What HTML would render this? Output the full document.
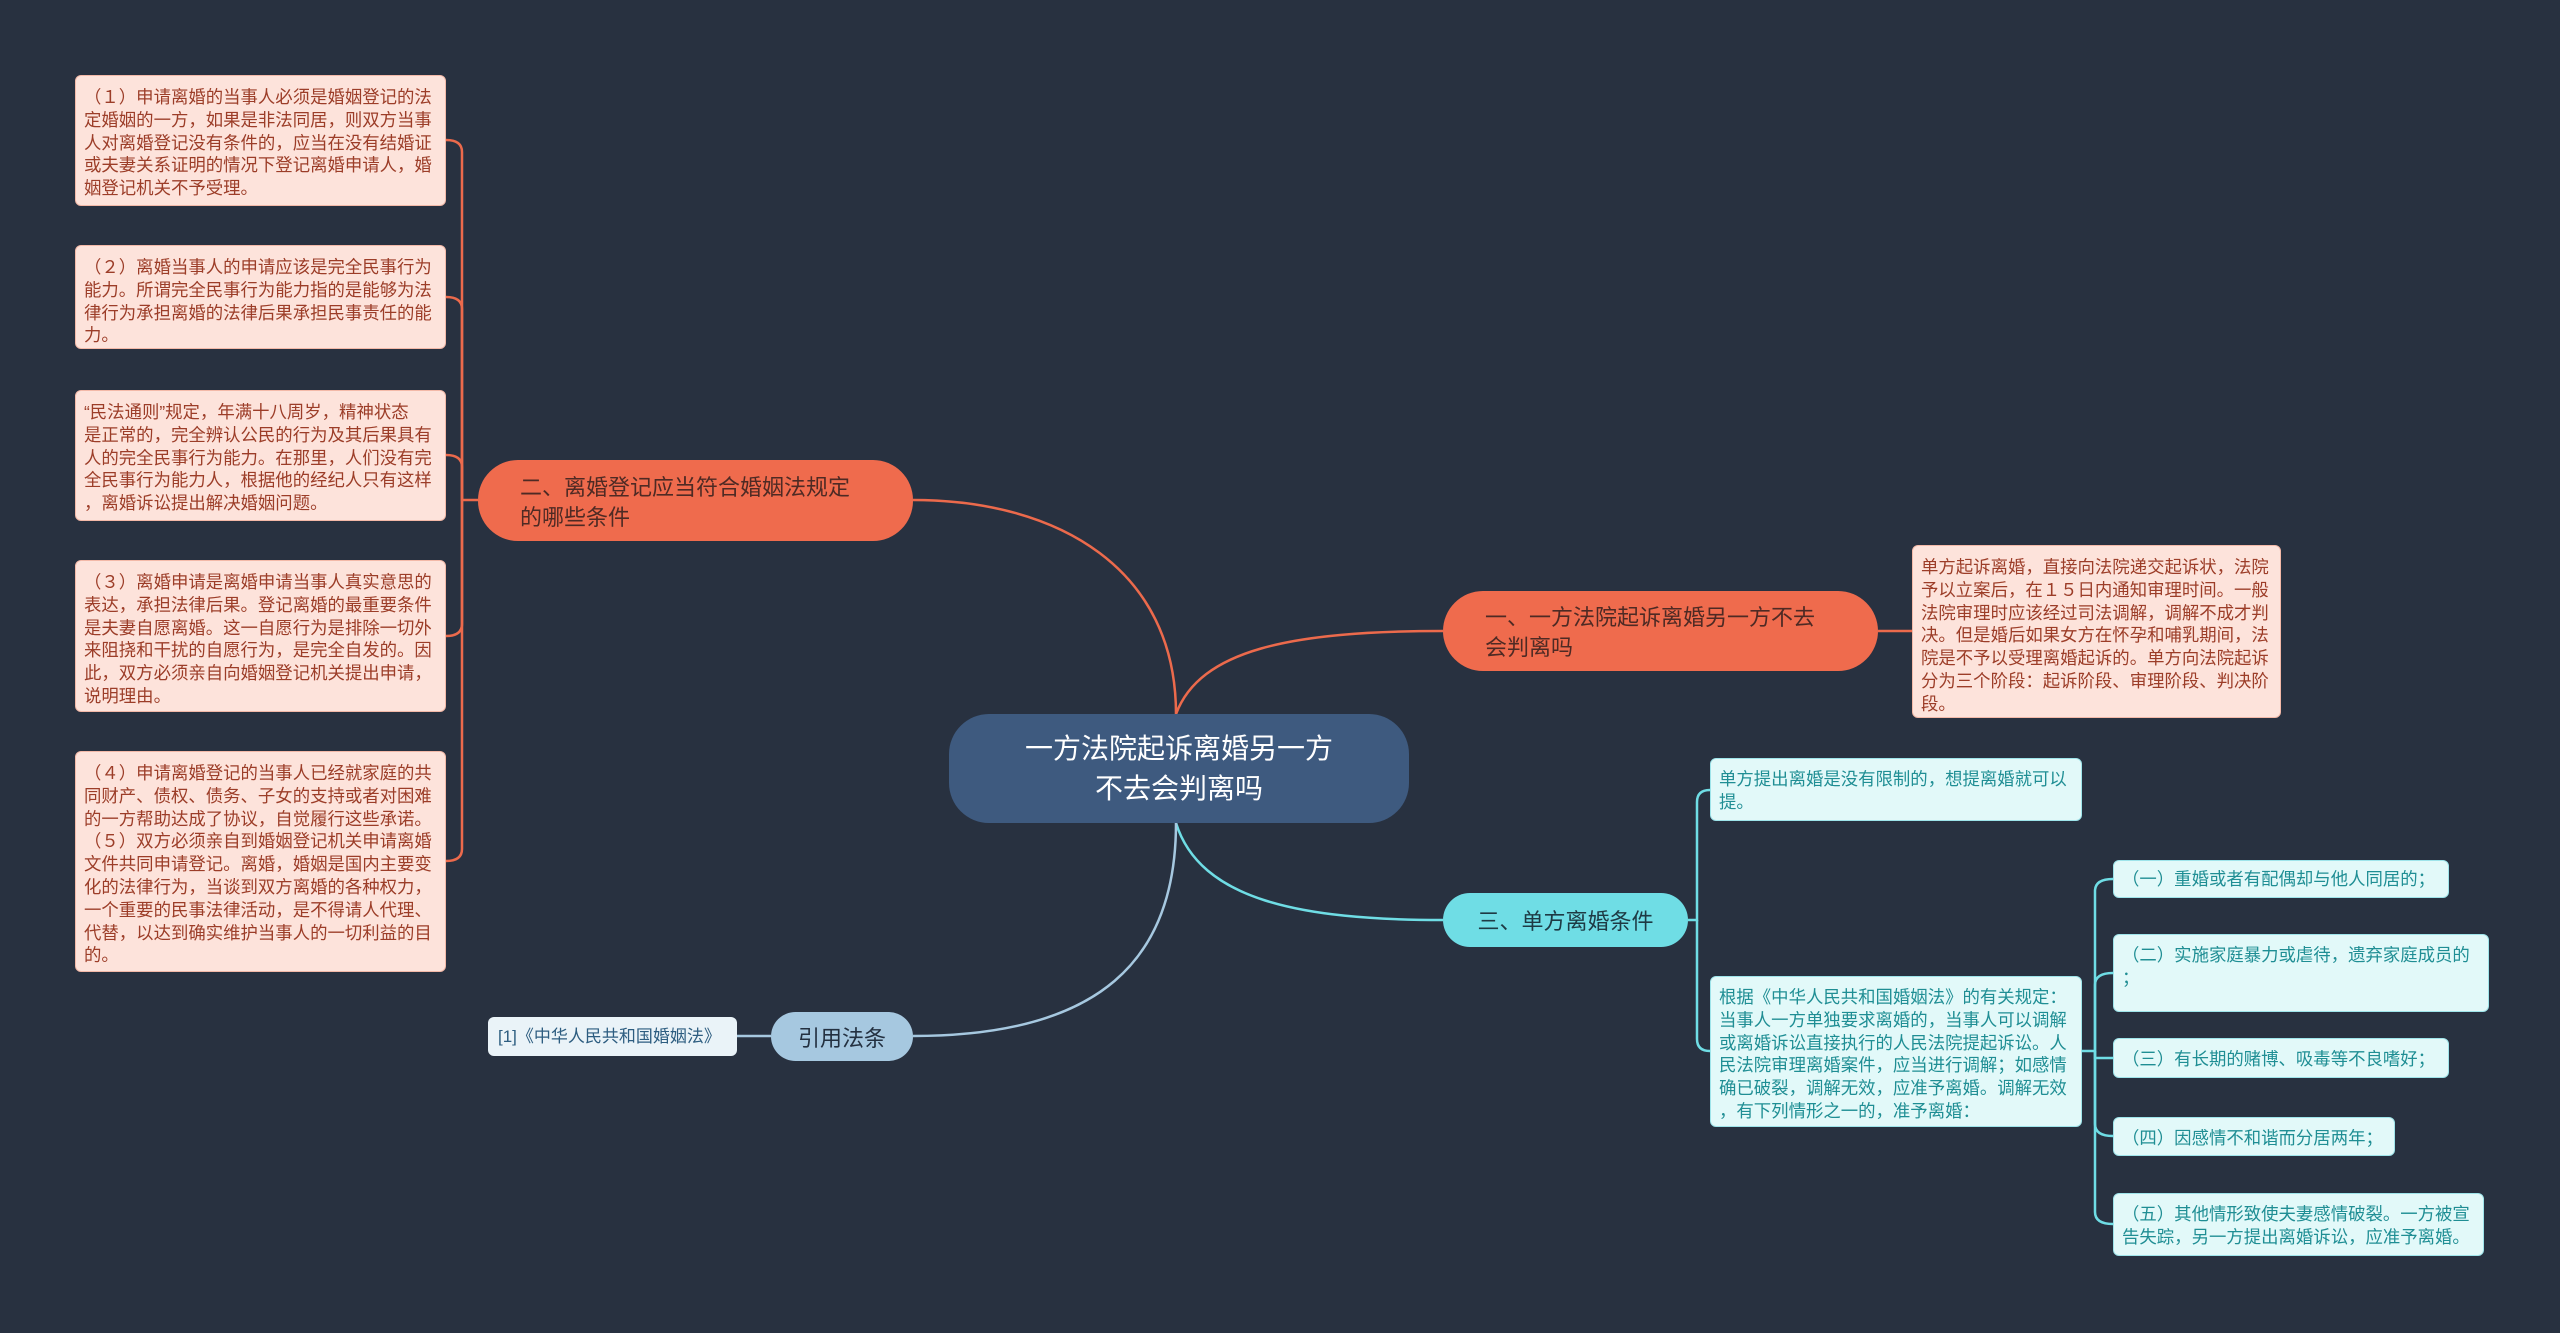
<!DOCTYPE html>
<html><head><meta charset="utf-8"><style>
body{margin:0;width:2560px;height:1333px;background:#283140;overflow:hidden;position:relative;font-family:"Liberation Sans","Noto Sans CJK SC",sans-serif}
.b{position:absolute;box-sizing:border-box;white-space:nowrap}
.l{background:#fde3db;color:#9c3d28;font-size:17.4px;line-height:22.8px;padding:10px 8px 7px 8px;border-radius:6px;border:1px solid #f3b9a8}
.c{background:#e2f9f9;color:#1f8e94;font-size:17.4px;line-height:22.8px;padding:9px 8px 7px 8px;border-radius:6px;border:1px solid #9ee4ea}
.n{display:flex;align-items:center;border-radius:40px}
</style></head><body>
<svg class="b" style="left:0;top:0" width="2560" height="1333">
<g fill="none" stroke-width="2.5">
<path d="M1176,714 C1176,570 1060,500 913,500" stroke="#ec6a4c"/>
<path d="M1176,714 C1200,650 1290,631 1443,631" stroke="#ec6a4c"/>
<path d="M1176,823 C1200,900 1300,920 1443,920" stroke="#6fdde5"/>
<path d="M1176,823 C1176,960 1100,1036 913,1036" stroke="#a6c8e0"/>
<g stroke="#ec6a4c">
<path d="M478,500 H462 V152 Q462,140 446,140"/>
<path d="M462,500 V309 Q462,297 446,297"/>
<path d="M462,500 V467 Q462,455 446,455"/>
<path d="M462,500 V624 Q462,636 446,636"/>
<path d="M462,500 V849 Q462,861 446,861"/>
<path d="M1878,631 H1912"/>
</g>
<g stroke="#6fdde5">
<path d="M1688,920 H1697 V802 Q1697,790 1710,790"/>
<path d="M1697,920 V1039 Q1697,1051 1710,1051"/>
<path d="M2082,1051 H2095 V891 Q2095,879 2113,879"/>
<path d="M2095,1051 V985 Q2095,973 2113,973"/>
<path d="M2095,1051 V1058 L2113,1058"/>
<path d="M2095,1051 V1124 Q2095,1136 2113,1136"/>
<path d="M2095,1051 V1212 Q2095,1224 2113,1224"/>
</g>
<path d="M737,1036 H771" stroke="#a6c8e0"/>
</g></svg>

<div class="b n" style="left:949px;top:714px;width:460px;height:109px;background:#3e5a7f;color:#fff;font-size:28px;line-height:40px;justify-content:center;text-align:center">一方法院起诉离婚另一方<br>不去会判离吗</div>
<div class="b n" style="left:478px;top:460px;width:435px;height:81px;background:#ef6b4d;color:#4e2a24;font-size:22px;line-height:30px;padding-left:42px;padding-top:4px">二、离婚登记应当符合婚姻法规定<br>的哪些条件</div>
<div class="b n" style="left:1443px;top:591px;width:435px;height:80px;background:#ef6b4d;color:#4e2a24;font-size:22px;line-height:30px;padding-left:42px;padding-top:4px">一、一方法院起诉离婚另一方不去<br>会判离吗</div>
<div class="b n" style="left:1443px;top:893px;width:245px;height:54px;background:#6fdde5;color:#1e3a44;font-size:22px;justify-content:center">三、单方离婚条件</div>
<div class="b n" style="left:771px;top:1012px;width:142px;height:49px;background:#a6c8e0;color:#233040;font-size:22px;justify-content:center">引用法条</div>
<div class="b" style="left:488px;top:1017px;width:249px;height:39px;background:#eaf3f8;color:#2d5d80;font-size:17px;line-height:39px;padding-left:10px;border-radius:6px">[1]《中华人民共和国婚姻法》</div>

<div class="b l" style="left:75px;top:75px;width:371px;height:131px">（１）申请离婚的当事人必须是婚姻登记的法<br>定婚姻的一方，如果是非法同居，则双方当事<br>人对离婚登记没有条件的，应当在没有结婚证<br>或夫妻关系证明的情况下登记离婚申请人，婚<br>姻登记机关不予受理。</div>
<div class="b l" style="left:75px;top:245px;width:371px;height:104px">（２）离婚当事人的申请应该是完全民事行为<br>能力。所谓完全民事行为能力指的是能够为法<br>律行为承担离婚的法律后果承担民事责任的能<br>力。</div>
<div class="b l" style="left:75px;top:390px;width:371px;height:131px">“民法通则”规定，年满十八周岁，精神状态<br>是正常的，完全辨认公民的行为及其后果具有<br>人的完全民事行为能力。在那里，人们没有完<br>全民事行为能力人，根据他的经纪人只有这样<br>，离婚诉讼提出解决婚姻问题。</div>
<div class="b l" style="left:75px;top:560px;width:371px;height:152px">（３）离婚申请是离婚申请当事人真实意思的<br>表达，承担法律后果。登记离婚的最重要条件<br>是夫妻自愿离婚。这一自愿行为是排除一切外<br>来阻挠和干扰的自愿行为，是完全自发的。因<br>此，双方必须亲自向婚姻登记机关提出申请，<br>说明理由。</div>
<div class="b l" style="left:75px;top:751px;width:371px;height:221px">（４）申请离婚登记的当事人已经就家庭的共<br>同财产、债权、债务、子女的支持或者对困难<br>的一方帮助达成了协议，自觉履行这些承诺。<br>（５）双方必须亲自到婚姻登记机关申请离婚<br>文件共同申请登记。离婚，婚姻是国内主要变<br>化的法律行为，当谈到双方离婚的各种权力，<br>一个重要的民事法律活动，是不得请人代理、<br>代替，以达到确实维护当事人的一切利益的目<br>的。</div>
<div class="b l" style="left:1912px;top:545px;width:369px;height:173px">单方起诉离婚，直接向法院递交起诉状，法院<br>予以立案后，在１５日内通知审理时间。一般<br>法院审理时应该经过司法调解，调解不成才判<br>决。但是婚后如果女方在怀孕和哺乳期间，法<br>院是不予以受理离婚起诉的。单方向法院起诉<br>分为三个阶段：起诉阶段、审理阶段、判决阶<br>段。</div>

<div class="b c" style="left:1710px;top:758px;width:372px;height:63px">单方提出离婚是没有限制的，想提离婚就可以<br>提。</div>
<div class="b c" style="left:1710px;top:976px;width:372px;height:151px">根据《中华人民共和国婚姻法》的有关规定：<br>当事人一方单独要求离婚的，当事人可以调解<br>或离婚诉讼直接执行的人民法院提起诉讼。人<br>民法院审理离婚案件，应当进行调解；如感情<br>确已破裂，调解无效，应准予离婚。调解无效<br>，有下列情形之一的，准予离婚：</div>
<div class="b c" style="left:2113px;top:860px;width:336px;height:38px;line-height:22px;padding-top:7px">（一）重婚或者有配偶却与他人同居的；</div>
<div class="b c" style="left:2113px;top:934px;width:376px;height:78px">（二）实施家庭暴力或虐待，遗弃家庭成员的<br>；</div>
<div class="b c" style="left:2113px;top:1038px;width:336px;height:40px">（三）有长期的赌博、吸毒等不良嗜好；</div>
<div class="b c" style="left:2113px;top:1117px;width:282px;height:39px">（四）因感情不和谐而分居两年；</div>
<div class="b c" style="left:2113px;top:1193px;width:371px;height:63px">（五）其他情形致使夫妻感情破裂。一方被宣<br>告失踪，另一方提出离婚诉讼，应准予离婚。</div>
</body></html>
